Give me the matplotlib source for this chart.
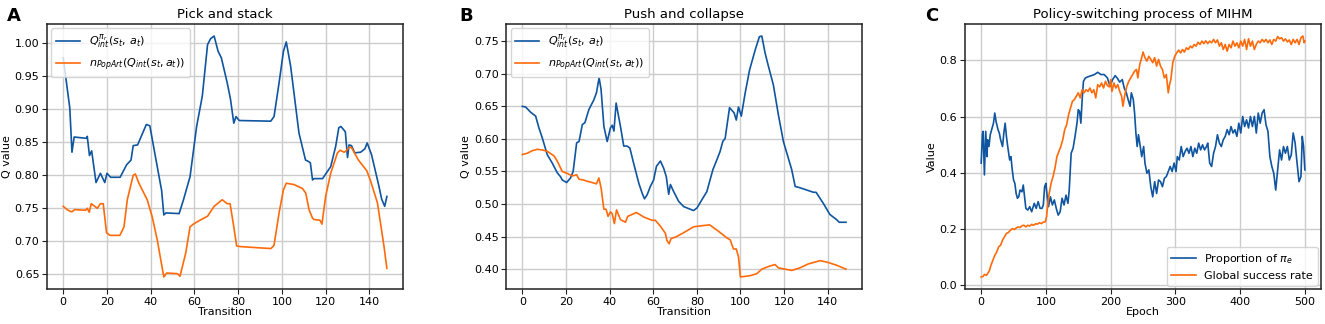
import numpy as np
import matplotlib.pyplot as plt

# Panel A: pick and stack (transition, value)
a_q_x = [0, 3, 4, 5, 10.7, 11, 12, 13, 14, 15, 17, 19, 20, 21.7, 26, 29, 31, 32, 34, 38, 39.6,
         43, 45, 46, 47, 53, 55, 58, 61, 63.6, 66, 67.4, 69, 70.8, 72.3, 75, 76.5, 78, 79, 80.5,
         94.9, 96.4, 98.7, 100.7, 102, 104, 107.8, 110.8, 111.6, 113, 114, 114.7, 118.6, 119.6,
         122.3, 124.6, 126, 127, 129, 130, 130.7, 131.8, 133.3, 136, 137.9, 139, 141, 144.4,
         145.6, 147, 148]
a_q_y = [0.978, 0.902, 0.835, 0.858, 0.856, 0.859, 0.830, 0.837, 0.813, 0.789, 0.803, 0.789,
         0.803, 0.797, 0.797, 0.816, 0.823, 0.845, 0.846, 0.877, 0.875, 0.813, 0.777, 0.740,
         0.743, 0.742, 0.763, 0.798, 0.874, 0.920, 0.998, 1.007, 1.011, 0.988, 0.978, 0.940,
         0.915, 0.879, 0.889, 0.883, 0.882, 0.889, 0.940, 0.988, 1.002, 0.965, 0.864, 0.823,
         0.822, 0.819, 0.793, 0.795, 0.795, 0.800, 0.813, 0.844, 0.872, 0.874, 0.866, 0.827,
         0.846, 0.845, 0.834, 0.835, 0.840, 0.849, 0.831, 0.783, 0.764, 0.753, 0.768]
a_n_x = [0, 1.8, 3.4, 4.1, 5.2, 10.2, 11, 11.9, 12.8, 14, 15.6, 17, 18.3, 19.8, 21.4, 25.9,
         27.8, 29.3, 32, 33, 34.6, 38.4, 40.7, 43, 46, 47.3, 52.2, 53.4, 56, 58, 59.5, 62.5,
         66, 69, 70.5, 72.7, 75, 76.3, 78, 79.3, 81, 95, 96.4, 98.7, 100.7, 102, 105.5, 109.4,
         110.9, 112.4, 114, 114.7, 117.4, 118.3, 120, 122.3, 125.4, 126.6, 128.4, 129, 131,
         132, 135, 138.8, 140.6, 143.7, 146.7, 148]
a_n_y = [0.753, 0.748, 0.745, 0.745, 0.748, 0.747, 0.750, 0.744, 0.757, 0.754, 0.750, 0.757,
         0.757, 0.713, 0.709, 0.709, 0.722, 0.763, 0.800, 0.802, 0.788, 0.763, 0.737, 0.702,
         0.646, 0.652, 0.651, 0.647, 0.682, 0.722, 0.726, 0.732, 0.738, 0.753, 0.757, 0.763,
         0.757, 0.757, 0.722, 0.693, 0.692, 0.689, 0.694, 0.743, 0.778, 0.788, 0.786, 0.780,
         0.773, 0.748, 0.735, 0.733, 0.732, 0.726, 0.768, 0.803, 0.834, 0.838, 0.835, 0.836,
         0.843, 0.841, 0.823, 0.807, 0.791, 0.758, 0.692, 0.659]

# Panel B: push and collapse
b_q_x = [0, 1.5, 3.8, 6.1, 7.6, 9.2, 11.4, 13.7, 16, 17.5, 18.3, 20.3, 22.1, 23.3, 24.9, 26,
         27.5, 28.7, 30.5, 32.8, 34, 35.2, 36.1, 37.4, 38.9, 40.4, 41.2, 42, 43, 45, 46.5, 48,
         49.3, 51, 53.4, 54.9, 56, 57.2, 58.7, 60.2, 61.5, 63.3, 64.8, 66, 67.1, 67.9, 69.4,
         71.7, 74, 77, 78.5, 80.1, 82.4, 84.6, 85.9, 87.4, 89.2, 90.7, 91.9, 93, 95, 97.1,
         98.1, 99.1, 100.4, 102.2, 104.2, 106.8, 108.7, 109.8, 111.3, 112.8, 115.1, 117.4,
         119.7, 123.5, 125.1, 127.3, 133.5, 134.7, 138, 141, 144.1, 145.3, 148.4]
b_q_y = [0.650, 0.649, 0.641, 0.635, 0.617, 0.601, 0.576, 0.563, 0.548, 0.542, 0.537, 0.533,
         0.540, 0.550, 0.594, 0.596, 0.622, 0.625, 0.645, 0.660, 0.671, 0.694, 0.676, 0.619,
         0.596, 0.617, 0.621, 0.612, 0.655, 0.619, 0.589, 0.589, 0.586, 0.563, 0.532, 0.517,
         0.508, 0.514, 0.527, 0.537, 0.558, 0.566, 0.555, 0.542, 0.515, 0.530, 0.519, 0.504,
         0.496, 0.492, 0.490, 0.494, 0.507, 0.519, 0.535, 0.553, 0.568, 0.581, 0.596, 0.601,
         0.648, 0.640, 0.629, 0.649, 0.635, 0.671, 0.706, 0.737, 0.757, 0.758, 0.732, 0.712,
         0.683, 0.637, 0.596, 0.553, 0.527, 0.525, 0.518, 0.518, 0.501, 0.484, 0.476, 0.472,
         0.472]
b_n_x = [0, 2.3, 4.6, 6.9, 9.2, 11.4, 14.5, 16, 18.3, 20.6, 22.9, 24.9, 26, 28, 29.7, 32, 34,
         35.1, 36.1, 37.4, 38.4, 39.3, 40.4, 41.2, 42.2, 43.2, 45, 47.3, 48.3, 51, 52.3, 55.7,
         59.5, 61, 63.3, 65.6, 66.3, 67.3, 68.2, 70.1, 74, 78.5, 83.1, 85.9, 90, 93.8, 95.3,
         96.8, 98.1, 99.1, 100, 104.5, 107.5, 109.8, 113.6, 115.9, 117.4, 123.5, 127.3, 131.1,
         136.5, 139.5, 144.1, 148.4]
b_n_y = [0.576, 0.578, 0.582, 0.584, 0.583, 0.581, 0.574, 0.566, 0.550, 0.547, 0.543, 0.545,
         0.538, 0.537, 0.535, 0.533, 0.531, 0.540, 0.525, 0.492, 0.492, 0.481, 0.488, 0.485,
         0.470, 0.491, 0.476, 0.472, 0.481, 0.485, 0.487, 0.480, 0.475, 0.475, 0.466, 0.455,
         0.444, 0.439, 0.447, 0.449, 0.456, 0.465, 0.467, 0.468, 0.458, 0.448, 0.445, 0.431,
         0.431, 0.419, 0.388, 0.390, 0.393, 0.400, 0.405, 0.407, 0.402, 0.398, 0.402, 0.408,
         0.413, 0.411, 0.406, 0.400]

# Panel C: policy switching (epoch, value)
c_p_x = [0, 2, 3, 5, 7, 9, 10, 12, 14, 17, 19, 21, 23, 26, 28, 30, 33, 35, 37, 39, 41, 44, 46,
         48, 50, 52, 54, 56, 58, 60, 63, 65, 67, 69, 72, 75, 78, 82, 85, 88, 91, 94, 96, 98,
         100, 102, 104, 107, 110, 113, 116, 119, 122, 125, 128, 131, 134, 136, 139, 142, 145,
         148, 150, 152, 154, 156, 158, 161, 165, 170, 175, 180, 185, 190, 195, 199, 203, 207,
         210, 214, 218, 221, 224, 227, 230, 232, 235, 237, 239, 241, 243, 245, 248, 251, 253,
         256, 259, 262, 265, 268, 271, 274, 277, 280, 283, 286, 289, 292, 295, 298, 301, 303,
         306, 309, 312, 315, 318, 321, 324, 327, 330, 333, 336, 339, 342, 345, 348, 350, 353,
         356, 359, 362, 365, 368, 371, 374, 377, 380, 383, 386, 389, 392, 395, 398, 401, 404,
         407, 410, 413, 416, 419, 422, 425, 428, 431, 434, 437, 440, 443, 446, 449, 452, 455,
         458, 461, 464, 467, 470, 473, 476, 479, 482, 485, 488, 491, 494, 496, 498, 500]
c_p_y = [0.435, 0.540, 0.548, 0.393, 0.548, 0.458, 0.518, 0.494, 0.536, 0.560, 0.577, 0.613,
         0.583, 0.554, 0.542, 0.518, 0.494, 0.542, 0.577, 0.530, 0.494, 0.446, 0.458, 0.411,
         0.375, 0.363, 0.327, 0.310, 0.315, 0.339, 0.333, 0.357, 0.315, 0.274, 0.268, 0.280,
         0.262, 0.292, 0.274, 0.298, 0.274, 0.274, 0.286, 0.351, 0.363, 0.315, 0.280, 0.315,
         0.286, 0.304, 0.274, 0.250, 0.262, 0.310, 0.286, 0.321, 0.292, 0.339, 0.470, 0.488,
         0.530, 0.577, 0.625, 0.619, 0.577, 0.661, 0.726, 0.738, 0.742, 0.746, 0.750, 0.758,
         0.750, 0.750, 0.738, 0.708, 0.732, 0.746, 0.738, 0.723, 0.732, 0.702, 0.687, 0.661,
         0.637, 0.685, 0.661, 0.613, 0.542, 0.494, 0.536, 0.506, 0.458, 0.494, 0.435, 0.399,
         0.411, 0.351, 0.315, 0.369, 0.327, 0.375, 0.369, 0.351, 0.381, 0.387, 0.405, 0.423,
         0.405, 0.435, 0.405, 0.458, 0.446, 0.494, 0.458, 0.476, 0.488, 0.470, 0.494, 0.458,
         0.488, 0.470, 0.506, 0.482, 0.500, 0.482, 0.494, 0.506, 0.435, 0.423, 0.470, 0.494,
         0.536, 0.506, 0.494, 0.518, 0.530, 0.554, 0.536, 0.565, 0.542, 0.554, 0.530, 0.577,
         0.542, 0.601, 0.565, 0.589, 0.560, 0.601, 0.565, 0.601, 0.542, 0.613, 0.577, 0.613,
         0.625, 0.571, 0.548, 0.458, 0.423, 0.399, 0.339, 0.411, 0.482, 0.446, 0.494, 0.470,
         0.494, 0.446, 0.464, 0.542, 0.506, 0.435, 0.369, 0.387, 0.530, 0.494, 0.411]
c_s_x = [0, 3, 5, 8, 10, 13, 15, 18, 21, 24, 27, 30, 33, 36, 39, 42, 45, 48, 51, 54, 57, 60,
         63, 66, 69, 72, 75, 78, 81, 84, 87, 90, 93, 96, 99, 101, 103, 105, 108, 111, 114, 117,
         120, 123, 126, 129, 132, 135, 138, 141, 144, 147, 150, 153, 156, 159, 162, 165, 168,
         171, 174, 177, 180, 183, 186, 189, 192, 195, 198, 200, 202, 205, 208, 211, 214, 217,
         219, 222, 225, 228, 231, 234, 237, 240, 242, 245, 248, 250, 253, 256, 259, 262, 265,
         268, 271, 274, 277, 280, 283, 286, 289, 291, 293, 296, 299, 302, 305, 308, 311, 314,
         317, 320, 323, 326, 329, 332, 335, 338, 341, 344, 347, 350, 353, 356, 359, 362, 365,
         368, 371, 374, 377, 380, 383, 386, 389, 392, 395, 398, 401, 404, 407, 410, 413, 416,
         419, 422, 425, 428, 431, 434, 437, 440, 443, 446, 449, 452, 455, 458, 461, 464, 467,
         470, 473, 476, 479, 482, 485, 488, 491, 494, 497, 499, 500]
c_s_y = [0.030, 0.032, 0.039, 0.036, 0.042, 0.054, 0.071, 0.089, 0.107, 0.119, 0.137, 0.143,
         0.161, 0.173, 0.185, 0.188, 0.196, 0.202, 0.199, 0.204, 0.208, 0.206, 0.212, 0.214,
         0.208, 0.214, 0.211, 0.217, 0.214, 0.219, 0.218, 0.223, 0.220, 0.225, 0.226, 0.244,
         0.292, 0.327, 0.363, 0.387, 0.417, 0.458, 0.476, 0.494, 0.518, 0.554, 0.571, 0.607,
         0.631, 0.655, 0.661, 0.673, 0.685, 0.667, 0.696, 0.685, 0.696, 0.690, 0.702, 0.685,
         0.696, 0.667, 0.714, 0.706, 0.720, 0.702, 0.726, 0.711, 0.706, 0.732, 0.690, 0.720,
         0.702, 0.714, 0.690, 0.673, 0.637, 0.679, 0.708, 0.726, 0.738, 0.750, 0.762, 0.768,
         0.738, 0.786, 0.810, 0.830, 0.810, 0.798, 0.815, 0.804, 0.792, 0.810, 0.780, 0.804,
         0.780, 0.768, 0.738, 0.750, 0.685, 0.714, 0.732, 0.792, 0.815, 0.827, 0.837, 0.827,
         0.839, 0.830, 0.845, 0.839, 0.851, 0.845, 0.857, 0.851, 0.865, 0.857, 0.869, 0.860,
         0.870, 0.860, 0.869, 0.863, 0.875, 0.863, 0.873, 0.851, 0.863, 0.839, 0.857, 0.833,
         0.857, 0.845, 0.869, 0.851, 0.863, 0.845, 0.869, 0.851, 0.875, 0.839, 0.877, 0.851,
         0.869, 0.839, 0.857, 0.869, 0.863, 0.875, 0.866, 0.875, 0.863, 0.873, 0.857, 0.875,
         0.869, 0.885, 0.877, 0.881, 0.869, 0.877, 0.866, 0.873, 0.857, 0.875, 0.863, 0.875,
         0.857, 0.881, 0.887, 0.863, 0.869]

blue = '#0f55a0'
orange = '#ff6a0a'
q_label = r'$Q^{\pi_r}_{int}(s_t,\, a_t)$'
n_label = r'$n_{PopArt}(Q_{int}(s_t,a_t))$'

plt.rcParams['font.size'] = 8
fig = plt.figure(figsize=(13.25, 3.24), dpi=100)
w, h, bot = 0.2687, 0.818, 0.108
axA = fig.add_axes([0.0355, bot, w, h])
axB = fig.add_axes([0.382, bot, w, h])
axC = fig.add_axes([0.7283, bot, w, h])

for ax, qx, qy, nx_, ny_, title in [(axA, a_q_x, a_q_y, a_n_x, a_n_y, 'Pick and stack'),
                                    (axB, b_q_x, b_q_y, b_n_x, b_n_y, 'Push and collapse')]:
    ax.plot(qx, qy, color=blue, lw=1.2, label=q_label)
    ax.plot(nx_, ny_, color=orange, lw=1.2, label=n_label)
    ax.set_title(title, fontsize=9.5, pad=4)
    ax.set_xlabel('Transition', labelpad=0)
    ax.set_ylabel('Q value', labelpad=2)
    ax.legend(loc='upper left', fontsize=8, handlelength=2.2, borderaxespad=0.4)

axC.plot(c_p_x, c_p_y, color=blue, lw=1.2, label=r'Proportion of $\pi_e$')
axC.plot(c_s_x, c_s_y, color=orange, lw=1.2, label='Global success rate')
axC.set_title('Policy-switching process of MIHM', fontsize=9.5, pad=4)
axC.set_xlabel('Epoch', labelpad=0)
axC.set_ylabel('Value', labelpad=2)
axC.set_xticks([0, 100, 200, 300, 400, 500])
axC.set_yticks([0.0, 0.2, 0.4, 0.6, 0.8])
axC.legend(loc='lower right', fontsize=8, handlelength=2.2, borderaxespad=0.3)

for ax in (axA, axB, axC):
    ax.grid(True, color='#cccccc', lw=1)
    ax.set_axisbelow(True)
    ax.tick_params(length=3.5, pad=2, color='#222222')
    for s in ax.spines.values():
        s.set_linewidth(1.1)
        s.set_color('#222222')

fig.text(0.005, 0.935, 'A', fontsize=13, fontweight='bold')
fig.text(0.347, 0.935, 'B', fontsize=13, fontweight='bold')
fig.text(0.698, 0.935, 'C', fontsize=13, fontweight='bold')

fig.savefig('out.png', dpi=100)
